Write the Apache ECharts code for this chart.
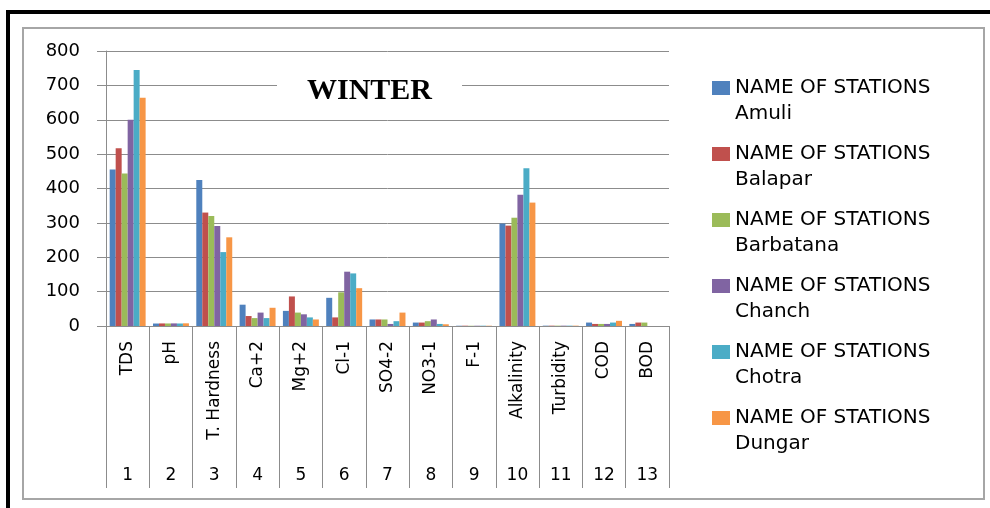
<!DOCTYPE html>
<html><head><meta charset="utf-8">
<script src="https://cdn.jsdelivr.net/npm/echarts@6/dist/echarts.min.js"></script>
<style>html,body{margin:0;padding:0;background:#fff}#c{width:990px;height:508px}</style>
</head><body><div id="c"></div>
<script>
const categories = ['TDS','pH','T. Hardness','Ca+2','Mg+2','Cl-1','SO4-2','NO3-1','F-1','Alkalinity','Turbidity','COD','BOD'];
const categoryNumbers = ['1','2','3','4','5','6','7','8','9','10','11','12','13'];
const stations = ['NAME OF STATIONS Amuli','NAME OF STATIONS Balapar','NAME OF STATIONS Barbatana','NAME OF STATIONS Chanch','NAME OF STATIONS Chotra','NAME OF STATIONS Dungar'];
const amuli     = [455, 7.2, 425, 62, 44,  82, 19, 10, 0.8, 298, 1, 10, 6];
const balapar   = [517, 7.5, 330, 29, 86,  25, 19, 10, 0.9, 292, 1,  6, 10];
const barbatana = [444, 7.4, 320, 23, 39,  98, 19, 14, 0.7, 315, 1,  6, 10];
const chanch    = [600, 7.6, 291, 39, 34, 158,  6, 19, 0.8, 382, 1,  6, 0];
const chotra    = [745, 7.3, 215, 23, 25, 153, 14,  6, 0.9, 459, 1, 10, 0];
const dungar    = [664, 7.8, 258, 53, 19, 110, 39,  5, 0.8, 359, 1, 15, 0];
const seriesValues = [amuli, balapar, barbatana, chanch, chotra, dungar];
const colors = ['#4F81BD','#C0504D','#9BBB59','#8064A2','#4BACC6','#F79646'];
const titleText = 'WINTER';

const axisGray = '#8c8c8c';
const font = 'DejaVu Sans';

const chart = echarts.init(document.getElementById('c'));
chart.setOption({
  animation: false,
  color: colors,
  title: {
    text: titleText,
    left: 277, top: 72,
    backgroundColor: '#fff',
    padding: [4, 30],
    textStyle: { fontFamily: 'Liberation Serif', fontWeight: 'bold', fontSize: 30, color: '#000' }
  },
  legend: {
    orient: 'vertical',
    left: 712, top: 75,
    padding: 0,
    itemGap: 14,
    itemWidth: 18, itemHeight: 40,
    icon: 'path://M0,0H18V14H0Z M0,40',
    formatter: n => n.replace('STATIONS ', 'STATIONS\n'),
    textStyle: { fontFamily: font, fontSize: 20, lineHeight: 26, color: '#000' },
    selectedMode: false
  },
  grid: { left: 106, right: 321, top: 51, bottom: 182, containLabel: false },
  xAxis: [
    {
      type: 'category', data: categories, position: 'bottom',
      axisLine: { lineStyle: { color: axisGray, width: 1 } },
      axisTick: { show: true, length: 162, lineStyle: { color: axisGray, width: 1 } },
      axisLabel: { rotate: 90, margin: 15, interval: 0, fontFamily: font, fontSize: 17, color: '#000' }
    },
    {
      type: 'category', data: categoryNumbers, position: 'bottom',
      axisLine: { show: false }, axisTick: { show: false },
      axisLabel: { margin: 150, interval: 0, verticalAlign: 'middle', fontFamily: font, fontSize: 17, color: '#000' }
    }
  ],
  yAxis: {
    type: 'value', min: 0, max: 800, interval: 100,
    axisLine: { show: true, lineStyle: { color: axisGray, width: 1 } },
    axisTick: { show: true, length: 9, lineStyle: { color: axisGray, width: 1 } },
    splitLine: { lineStyle: { color: axisGray, width: 1 } },
    axisLabel: { margin: 26, fontFamily: font, fontSize: 18, color: '#000' }
  },
  graphic: [
    { type: 'rect', z: 100, shape: { x: 8, y: 12, width: 1000, height: 520 }, style: { fill: 'none', stroke: '#000', lineWidth: 4 } },
    { type: 'rect', z: 100, shape: { x: 23, y: 28, width: 961, height: 471 }, style: { fill: 'none', stroke: '#a6a6a6', lineWidth: 2 } }
  ],
  series: stations.map((name, i) => ({
    name, type: 'bar', data: seriesValues[i],
    barGap: '0%', barCategoryGap: '17%',
    itemStyle: { color: colors[i] }
  }))
});
</script></body></html>
